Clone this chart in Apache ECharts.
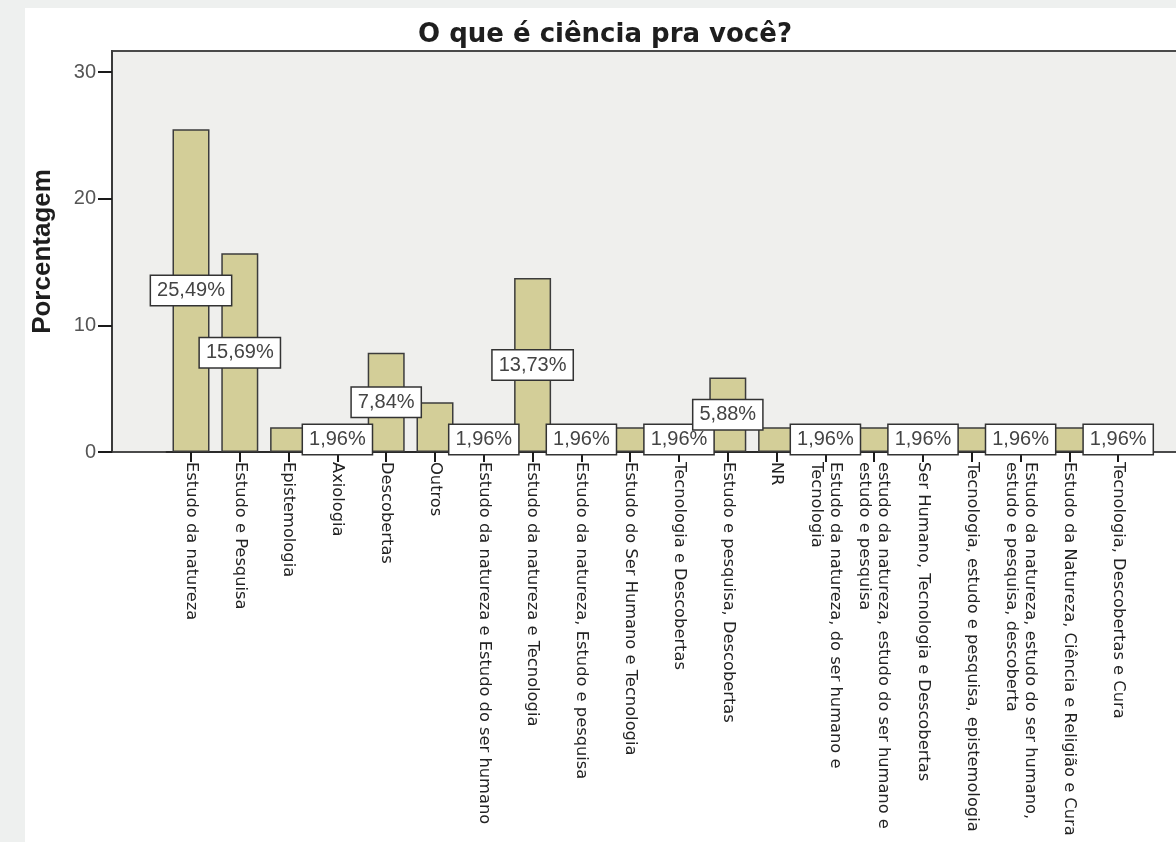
<!DOCTYPE html>
<html>
<head>
<meta charset="utf-8">
<script src="https://cdn.jsdelivr.net/npm/echarts@6/dist/echarts.min.js"></script>
<style>
  html, body { margin: 0; padding: 0; width: 1176px; height: 842px; background: #eef0ef; overflow: hidden; }
  #chart { position: absolute; left: 25px; top: 8px; width: 1151px; height: 834px; background: #ffffff; }
</style>
</head>
<body>
<div id="chart"></div>
<script>
// Answer categories (x axis)
const categories = [
  'Estudo da natureza',
  'Estudo e Pesquisa',
  'Epistemologia',
  'Axiologia',
  'Descobertas',
  'Outros',
  'Estudo da natureza e Estudo do ser humano',
  'Estudo da natureza e Tecnologia',
  'Estudo da natureza, Estudo e pesquisa',
  'Estudo do Ser Humano e Tecnologia',
  'Tecnologia e Descobertas',
  'Estudo e pesquisa, Descobertas',
  'NR',
  'Estudo da natureza, do ser humano e\nTecnologia',
  'estudo da natureza, estudo do ser humano e\nestudo e pesquisa',
  'Ser Humano, Tecnologia e Descobertas',
  'Tecnologia, estudo e pesquisa, epistemologia',
  'Estudo da natureza, estudo do ser humano,\nestudo e pesquisa, descoberta',
  'Estudo da Natureza, Ciência e Religião e Cura',
  'Tecnologia, Descobertas e Cura'
];

// Percentage of respondents per category
const percentages = [25.49, 15.69, 1.96, 1.96, 7.84, 3.92, 1.96, 13.73, 1.96, 1.96,
                     1.96, 5.88, 1.96, 1.96, 1.96, 1.96, 1.96, 1.96, 1.96, 1.96];

// Which bars carry a value label
const labelShown = [true, true, false, true, true, false, true, true, true, false,
                    true, true, false, true, false, true, false, true, false, true];

// Y axis tick values
const yTicks = [0, 10, 20, 30];
const yMax = 31.66;

const fmt = v => v.toFixed(2).replace('.', ',') + '%';

const chart = echarts.init(document.getElementById('chart'), null, { renderer: 'canvas' });

chart.setOption({
  animation: false,
  backgroundColor: '#ffffff',
  title: {
    text: 'O que é ciência pra você?',
    left: 575,
    textAlign: 'center',
    top: 9,
    textStyle: { fontFamily: 'DejaVu Sans', fontWeight: 'bold', fontSize: 26, color: '#1e1e1e' }
  },
  grid: [
    // plot frame with the value axis
    { left: 87, top: 43, bottom: 390, right: -40, show: true, outerBoundsMode: 'none', containLabel: false,
      backgroundColor: '#efefed', borderColor: '#4a4a4a', borderWidth: 2 },
    // bar area
    { left: 141.6, width: 976, top: 43, bottom: 390, outerBoundsMode: 'none', containLabel: false }
  ],
  xAxis: [
    { gridIndex: 0, type: 'value', min: 0, max: 1, show: false },
    {
      gridIndex: 1, type: 'category', data: categories,
      axisLine: { show: true, lineStyle: { color: '#2a2a2a', width: 2 } },
      axisTick: { show: true, alignWithLabel: true, length: 10, lineStyle: { color: '#1a1a1a', width: 2 } },
      axisLabel: {
        interval: 0, rotate: -90, margin: 10,
        fontFamily: 'DejaVu Sans', fontSize: 16.3, color: '#222', lineHeight: 19
      }
    }
  ],
  yAxis: [
    {
      gridIndex: 0, type: 'value', min: 0, max: yMax,
      name: 'Porcentagem', nameLocation: 'middle', nameGap: 56,
      nameTextStyle: { fontFamily: 'Liberation Sans', fontWeight: 'bold', fontSize: 26, color: '#1e1e1e' },
      axisLine: { show: true, lineStyle: { color: '#3a3a3a', width: 2 } },
      axisTick: { show: true, customValues: yTicks, length: 14, lineStyle: { color: '#1a1a1a', width: 2 } },
      axisLabel: { customValues: yTicks, margin: 16, fontFamily: 'Liberation Sans', fontSize: 20, color: '#555' },
      splitLine: { show: false }
    },
    { gridIndex: 1, type: 'value', min: 0, max: yMax, show: false, splitLine: { show: false } }
  ],
  series: [{
    type: 'bar',
    xAxisIndex: 1,
    yAxisIndex: 1,
    barWidth: 37,
    itemStyle: { color: '#d3ce98', borderColor: '#3c3c3c', borderWidth: 1.5 },
    label: {
      position: 'inside',
      formatter: p => fmt(p.value),
      backgroundColor: '#ffffff',
      borderColor: '#333',
      borderWidth: 1.5,
      padding: [5, 6, 4, 6],
      fontFamily: 'Liberation Sans',
      fontSize: 20,
      color: '#444'
    },
    data: percentages.map((v, i) => ({ value: v, label: { show: labelShown[i] } }))
  }]
});
</script>
</body>
</html>
